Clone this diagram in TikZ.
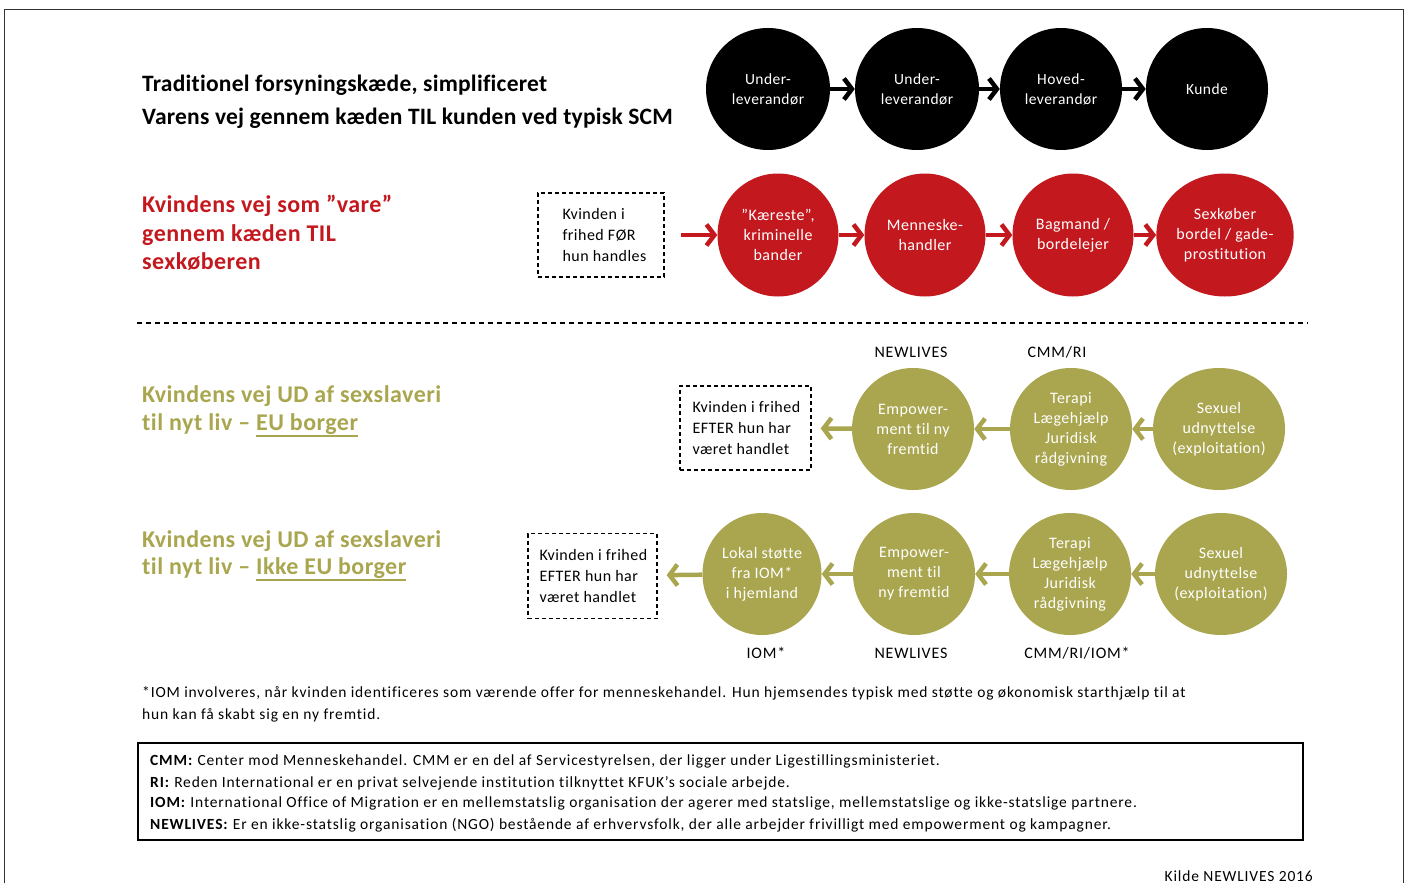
\documentclass[tikz,border=0pt]{standalone}
\usepackage{fontspec}
\setmainfont{Carlito}[Ligatures=NoCommon]
\usetikzlibrary{shapes.geometric,arrows.meta}
\definecolor{tred}{HTML}{C4181F}
\definecolor{tolive}{HTML}{A9A64F}
\definecolor{frame}{HTML}{333333}
\newcommand\myul[1]{\setbox0\hbox{#1}\rlap{\rule[-6.5pt]{\wd0}{1.6pt}}\box0}
\newcommand\lsp{\addfontfeatures{LetterSpace=3}}
\begin{document}
\begin{tikzpicture}[x=1pt,y=-1pt,
  circ/.style={ellipse, inner sep=0pt, minimum width=122pt, minimum height=122pt, align=center, text=white, font=\fontsize{16}{20}\selectfont\lsp},
  bc/.style={circ, fill=black, font=\fontsize{15.5}{20}\selectfont\lsp},
  rc/.style={circ, fill=tred, minimum width=121pt, minimum height=123pt},
  oc/.style={circ, fill=tolive},
  dbox/.style={draw, dashed, line width=1.3pt, dash pattern=on 4pt off 3pt, inner sep=0pt},
  boxtext/.style={align=left, inner sep=0pt, font=\fontsize{16}{21}\selectfont\lsp},
  head/.style={anchor=base west, inner sep=0pt, font=\bfseries\fontsize{23.5}{30}\selectfont\addfontfeatures{LetterSpace=1}},
  chead/.style={head, font=\bfseries\fontsize{24}{30}\selectfont\addfontfeatures{LetterSpace=2}},
  lab/.style={inner sep=0pt, font=\fontsize{16}{18}\selectfont\addfontfeatures{LetterSpace=5}},
  small/.style={anchor=base west, inner sep=0pt, font=\fontsize{15.5}{18}\selectfont\addfontfeatures{LetterSpace=5.5}},
  tip/.style={-{Straight Barb[length=8pt,width=21pt,line width=4.5pt]}},
  barrow/.style={line width=4.5pt, tip},
  rarrow/.style={draw=tred, line width=4.5pt, tip},
  oarrow/.style={draw=tolive, line width=4.5pt, tip},
]
\useasboundingbox (0,0) rectangle (1410,883);
% outer frame
\draw[frame, line width=1.3pt] (4.5,883) -- (4.5,9.5) -- (1403.5,9.5) -- (1403.5,883);

% ---------- Title ----------
\node[head] (t1) at (142,92) {Traditionel forsyningskæde, simplificeret};
\node[head] (t2) at (142,124) {Varens vej gennem kæden TIL kunden ved typisk SCM};

% ---------- Black chain ----------
\node[bc, minimum width=124pt] (b1) at (768,89) {Under-\\leverandør};
\node[bc, minimum width=124pt] (b2) at (917,89) {Under-\\leverandør};
\node[bc] (b3) at (1061,89) {Hoved-\\leverandør};
\node[bc] (b4) at (1207,89) {Kunde};
\draw[barrow] (b1) -- (b2);
\draw[barrow] (b2) -- (b3);
\draw[barrow] (b3) -- (b4);

% ---------- Red chain ----------
\node[chead, text=tred] (rh1) at (142,212) {Kvindens vej som ”vare”};
\node[chead, text=tred] (rh2) at (142,241) {gennem kæden TIL};
\node[chead, text=tred] (rh3) at (142,269) {sexkøberen};

\node[dbox, minimum width=126pt, minimum height=84pt] (rbox) at (601,235) {};
\node[boxtext, anchor=west] (rboxt) at ([xshift=25pt]rbox.west) {Kvinden i\\frihed FØR\\hun handles};
\node[rc] (r1) at (778,235) {"Kæreste",\\kriminelle\\bander};
\node[rc] (r2) at (925,235) {Menneske-\\handler};
\node[rc] (r3) at (1073,235) {Bagmand /\\bordelejer};
\node[rc] (r4) at (1225,235) {Sexkøber\\bordel / gade-\\prostitution};
\draw[rarrow, shorten <=16pt] (rbox) -- (r1);
\draw[rarrow] (r1) -- (r2);
\draw[rarrow] (r2) -- (r3);
\draw[rarrow] (r3) -- (r4);

% separator
\draw[line width=1.3pt, dash pattern=on 5pt off 4pt] (137,323) -- (1308,323);

% ---------- Olive row 1 ----------
\node[chead, text=tolive] (oh1) at (142,402) {Kvindens vej UD af sexslaveri};
\node[chead, text=tolive] (oh2) at (142,430) {til nyt liv – \myul{EU borger}};

\node[lab] (l1) at (911,352) {NEWLIVES};
\node[lab] (l2) at (1057,352) {CMM/RI};

\node[dbox, minimum width=131pt, minimum height=84pt] (ob1) at (745.5,428) {};
\node[boxtext, anchor=west] (ob1t) at ([xshift=13pt]ob1.west) {Kvinden i frihed\\EFTER hun har\\været handlet};
\node[oc] (o1) at (913,429) {Empower-\\ment til ny\\fremtid};
\node[oc] (o2) at (1071,429) {Terapi\\Lægehjælp\\Juridisk\\rådgivning};
\node[oc, minimum width=125pt] (o3) at (1219,429) {Sexuel\\udnyttelse\\(exploitation)};
\draw[oarrow] (o3) -- (o2);
\draw[oarrow] (o2) -- (o1);
\draw[oarrow, shorten >=9pt] (o1) -- (ob1);

% ---------- Olive row 2 ----------
\node[chead, text=tolive] (ph1) at (142,547) {Kvindens vej UD af sexslaveri};
\node[chead, text=tolive] (ph2) at (142,574) {til nyt liv – \myul{Ikke EU borger}};

\node[dbox, minimum width=129pt, minimum height=85pt] (ob2) at (592.5,576) {};
\node[boxtext, anchor=west] (ob2t) at ([xshift=12pt]ob2.west) {Kvinden i frihed\\EFTER hun har\\været handlet};
\node[oc, minimum width=119pt] (p1) at (762,574) {Lokal støtte\\fra IOM*\\i hjemland};
\node[oc] (p2) at (914,574) {Empower-\\ment til\\ny fremtid};
\node[oc] (p3) at (1070,574) {Terapi\\Lægehjælp\\Juridisk\\rådgivning};
\node[oc] (p4) at (1221,574) {Sexuel\\udnyttelse\\(exploitation)};
\draw[oarrow] (p4) -- (p3);
\draw[oarrow] (p3) -- (p2);
\draw[oarrow] (p2) -- (p1);
\draw[oarrow, shorten >=9pt] (p1) -- (ob2);

\node[lab] (m1) at (766,653) {IOM*};
\node[lab] (m2) at (911,653) {NEWLIVES};
\node[lab] (m3) at (1077,653) {CMM/RI/IOM*};

% ---------- Footnote ----------
\node[small] (f1) at (142,697) {*IOM involveres, når kvinden identificeres som værende offer for menneskehandel. Hun hjemsendes typisk med støtte og økonomisk starthjælp til at};
\node[small] (f2) at (142,719) {hun kan få skabt sig en ny fremtid.};

% ---------- Legend ----------
\draw[line width=1.5pt] (138,743) rectangle (1303,840);
\node[small] (g1) at (150,765) {\textbf{CMM:} Center mod Menneskehandel. CMM er en del af Servicestyrelsen, der ligger under Ligestillingsministeriet.};
\node[small] (g2) at (150,787) {\textbf{RI:} Reden International er en privat selvejende institution tilknyttet KFUK’s sociale arbejde.};
\node[small] (g3) at (150,807) {\textbf{IOM:} International Office of Migration er en mellemstatslig organisation der agerer med statslige, mellemstatslige og ikke-statslige partnere.};
\node[small] (g4) at (150,829) {\textbf{NEWLIVES:} Er en ikke-statslig organisation (NGO) bestående af erhvervsfolk, der alle arbejder frivilligt med empowerment og kampagner.};

\node[small, anchor=base east] (src) at (1313,881) {Kilde NEWLIVES 2016};
\end{tikzpicture}
\end{document}
